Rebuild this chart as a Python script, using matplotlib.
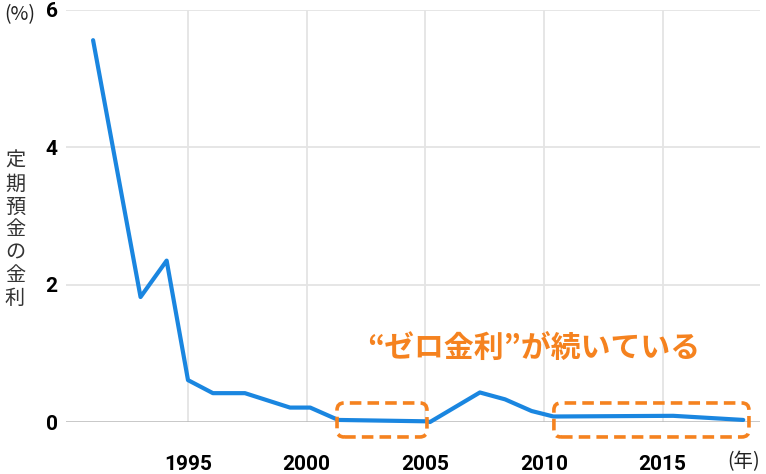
import matplotlib
matplotlib.use("Agg")
import matplotlib.pyplot as plt
from matplotlib.patches import FancyBboxPatch

plt.rcParams['font.family'] = ['Roboto', 'Noto Sans CJK JP', 'DejaVu Sans']

# data (year, %)
years = [1991.0, 1993.0, 1994.1, 1995.0, 1996.05, 1997.4, 1999.3, 2000.15,
         2001.33, 2005.05, 2005.2, 2007.3, 2008.36, 2009.48, 2010.4,
         2015.45, 2018.4]
rates = [5.56, 1.82, 2.35, 0.61, 0.42, 0.42, 0.21, 0.21,
         0.03, 0.01, 0.0, 0.43, 0.33, 0.16, 0.08,
         0.09, 0.03]
xticks = [1995, 2000, 2005, 2010, 2015]
yticks = [0, 2, 4, 6]
# highlighted "zero rate" periods (start year, end year)
zero_periods = [(2001.28, 2005.07), (2010.42, 2018.64)]

blue = '#1A86E0'
orange = '#F5821F'
jp = ['Noto Sans CJK JP', 'DejaVu Sans']

fig = plt.figure(figsize=(7.66, 4.74), dpi=100)
ax = fig.add_axes([0.0862, 0.1097, 0.9058, 0.8693])

ax.set_xlim(1989.86, 2019.1)
ax.set_ylim(0, 6)

# grid
for x in xticks:
    ax.plot([x, x], [0, 6], c='#E4E4E4', lw=1.3, zorder=1)
for y in yticks[1:]:
    ax.axhline(y, c='#E4E4E4', lw=1.3, zorder=1)
ax.axhline(0, c='#B8B8B8', lw=1.8, zorder=2)

ax.plot(years, rates, c=blue, lw=3, solid_capstyle='round',
        solid_joinstyle='round', zorder=3, clip_on=False)

for x0, x1 in zero_periods:
    box = FancyBboxPatch((x0, -0.218), x1 - x0, 0.495,
                         boxstyle="round,pad=0,rounding_size=0.3",
                         mutation_aspect=0.34, fill=False, ec=orange,
                         lw=2.6, linestyle=(0, (3.2, 1.7)), clip_on=False,
                         zorder=4)
    ax.add_patch(box)

ax.text(2009.55, 1.07, '“ゼロ金利”が続いている', color=orange, fontsize=21.5,
        fontweight='bold', ha='center', va='center', family=jp)

for s in ax.spines.values():
    s.set_visible(False)
ax.set_xticks(xticks)
ax.set_yticks(yticks)
ax.tick_params(length=0, labelsize=15)
ax.tick_params(axis='x', pad=24)
ax.tick_params(axis='y', pad=6)
for lab in ax.get_xticklabels() + ax.get_yticklabels():
    lab.set_fontweight('bold')

fig.text(20 / 766, 1 - 15 / 474, '(%)', fontsize=14, ha='center', va='center',
         color='#222222', family=jp)
fig.text(744 / 766, 1 - 462 / 474, '(年)', fontsize=14, ha='center', va='center',
         color='#222222', family=jp)
fig.text(15 / 766, 1 - 230 / 474, '\n'.join('定期預金の金利'), fontsize=14.5,
         ha='center', va='center', linespacing=1.12, color='#333333',
         family=jp)

fig.savefig('out.png', dpi=100)
